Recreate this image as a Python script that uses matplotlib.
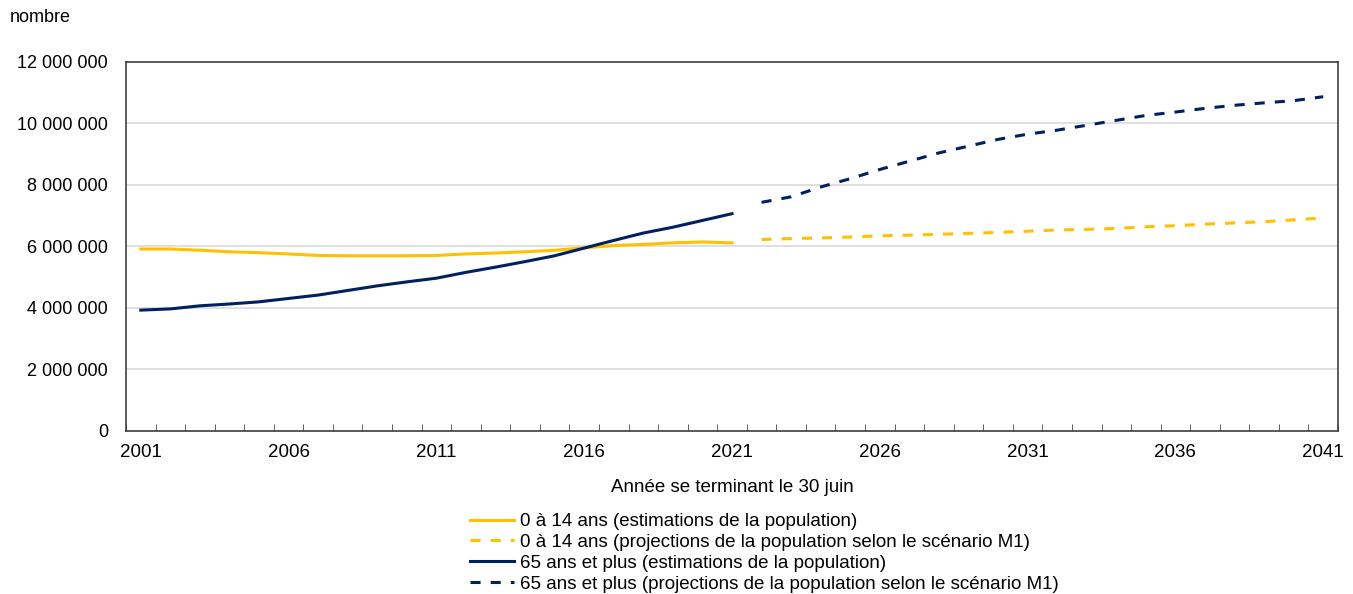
import matplotlib.pyplot as plt
import numpy as np
from matplotlib.ticker import FuncFormatter, FixedLocator

plt.rcParams['font.family'] = ['Liberation Sans', 'DejaVu Sans']

# années
years_est = list(range(2001, 2022))
years_proj = list(range(2022, 2042))

# 0 à 14 ans (estimations), en millions
est_0_14 = [5.91, 5.91, 5.87, 5.82, 5.79, 5.75, 5.70, 5.69, 5.69, 5.69, 5.70,
            5.75, 5.78, 5.82, 5.87, 5.95, 6.02, 6.06, 6.11, 6.14, 6.11]
# 0 à 14 ans (projections M1)
proj_0_14 = [6.22, 6.25, 6.27, 6.30, 6.34, 6.36, 6.39, 6.42, 6.45, 6.49,
             6.53, 6.55, 6.58, 6.63, 6.67, 6.72, 6.76, 6.80, 6.86, 6.92]
# 65 ans et plus (estimations)
est_65 = [3.92, 3.96, 4.06, 4.12, 4.19, 4.30, 4.41, 4.56, 4.71, 4.84, 4.96,
          5.15, 5.32, 5.50, 5.69, 5.94, 6.19, 6.43, 6.62, 6.84, 7.06]
# 65 ans et plus (projections M1)
proj_65 = [7.43, 7.61, 7.93, 8.20, 8.50, 8.77, 9.04, 9.26, 9.48, 9.65,
           9.78, 9.94, 10.10, 10.26, 10.37, 10.49, 10.59, 10.67, 10.74, 10.87]

labels = ['0 à 14 ans (estimations de la population)',
          '0 à 14 ans (projections de la population selon le scénario M1)',
          '65 ans et plus (estimations de la population)',
          '65 ans et plus (projections de la population selon le scénario M1)']

yellow = '#FFC000'
navy = '#002060'

fig = plt.figure(figsize=(13.53, 5.94), dpi=100)
ax = fig.add_axes([126 / 1353, 1 - 430.5 / 594, (1338 - 126) / 1353, (430.5 - 62) / 594])

lw = 2.2
ax.plot(years_est, np.array(est_0_14) * 1e6, color=yellow, lw=lw, label=labels[0])
ax.plot(years_proj, np.array(proj_0_14) * 1e6, color=yellow, lw=lw, dashes=(3.3, 3.3), label=labels[1])
ax.plot(years_est, np.array(est_65) * 1e6, color=navy, lw=lw, label=labels[2])
ax.plot(years_proj, np.array(proj_65) * 1e6, color=navy, lw=lw, dashes=(3.3, 3.3), label=labels[3])

ax.set_xlim(2000.5, 2041.5)
ax.set_ylim(0, 12e6)
ax.set_yticks(np.arange(0, 12.1e6, 2e6))
ax.yaxis.set_major_formatter(FuncFormatter(lambda v, p: f'{int(v):,}'.replace(',', ' ')))
ax.set_xticks(list(range(2001, 2042, 5)))
ax.xaxis.set_minor_locator(FixedLocator(np.arange(2000.5, 2042, 1)))
ax.tick_params(axis='x', which='major', length=0, pad=10, labelsize=13.5)
ax.tick_params(axis='x', which='minor', direction='in', length=5, color='#404040')
ax.tick_params(axis='y', length=0, pad=13, labelsize=13)

ax.grid(True, axis='y', color='#d9d9d9', lw=1.2)
ax.set_axisbelow(True)
for s in ax.spines.values():
    s.set_color('#404040')
    s.set_linewidth(1.2)

fig.text(10 / 1353, 1 - 18 / 594, 'nombre', fontsize=13, ha='left', va='center')
fig.text(732 / 1353, 1 - 488 / 594, 'Année se terminant le 30 juin', fontsize=13.5, ha='center', va='center')

fig.legend(loc='upper left', bbox_to_anchor=(470 / 1353, 1 - 513 / 594), frameon=False,
           fontsize=13.5, handlelength=2.35, handletextpad=0.32, labelspacing=0.2,
           borderpad=0, borderaxespad=0)

fig.savefig('out.png', dpi=100)
